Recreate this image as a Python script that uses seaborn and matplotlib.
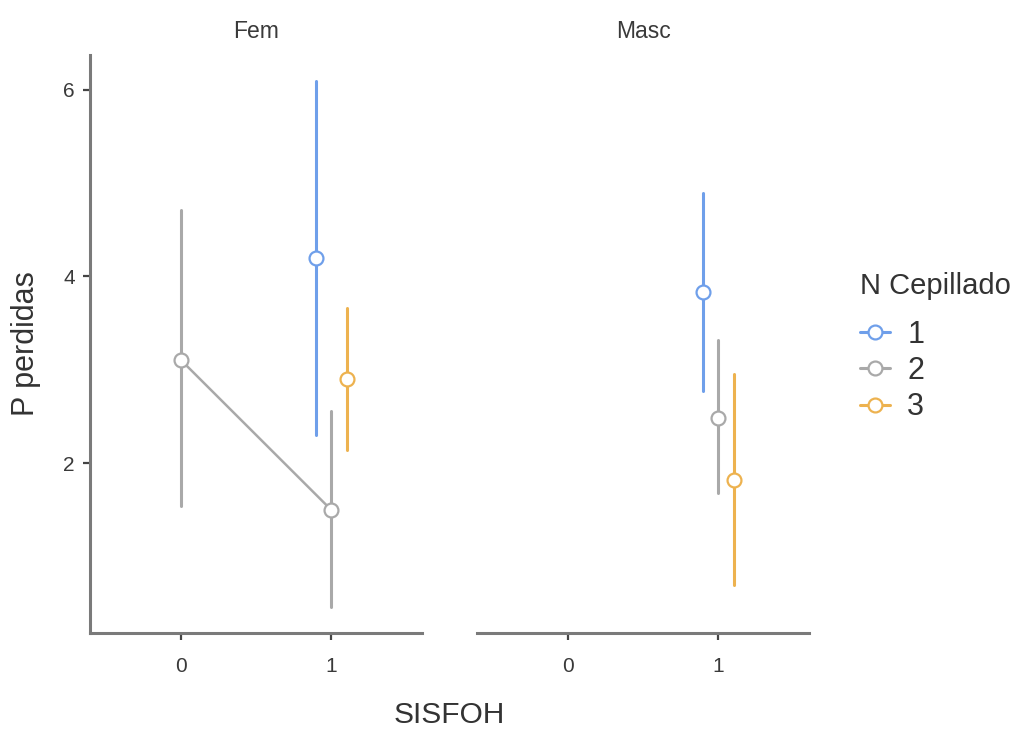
import numpy as np
import pandas as pd
import matplotlib
matplotlib.use("Agg")
import matplotlib.pyplot as plt
from matplotlib.lines import Line2D
import seaborn as sns

# ---- data ----
sexo = ["Fem", "Fem", "Fem", "Fem", "Masc", "Masc", "Masc"]
sisfoh = ["0", "1", "1", "1", "1", "1", "1"]
cepillado = ["2", "1", "2", "3", "1", "2", "3"]
media = [3.11, 4.20, 1.50, 2.90, 3.83, 2.49, 1.82]
ic_inf = [1.54, 2.30, 0.46, 2.14, 2.77, 1.68, 0.70]
ic_sup = [4.71, 6.09, 2.56, 3.66, 4.89, 3.32, 2.96]

x_order = ["0", "1"]
hue_order = ["1", "2", "3"]
col_order = ["Fem", "Masc"]
y_ticks = [2, 4, 6]
colors = ["#6F9FEA", "#A9A9A9", "#EDB24F"]
palette = dict(zip(hue_order, colors))

rows = []
for s, x, c, m, lo, hi in zip(sexo, sisfoh, cepillado, media, ic_inf, ic_sup):
    for v in (lo, m, hi):
        rows.append({"Sexo": s, "SISFOH": x, "N Cepillado": c, "P perdidas": v})
df = pd.DataFrame(rows)

sns.set_theme(style="white")
plt.rcParams["font.family"] = ["Liberation Sans", "DejaVu Sans"]
plt.rcParams["text.color"] = "#333333"

g = sns.catplot(
    data=df, x="SISFOH", y="P perdidas", hue="N Cepillado", col="Sexo",
    kind="point", order=x_order, hue_order=hue_order, col_order=col_order,
    estimator="median", errorbar=("pi", 100), dodge=0.2, palette=palette,
    markers="o", linestyles="-", markersize=10, markeredgewidth=1.6,
    linewidth=1.8, err_kws={"linewidth": 2.2}, capsize=0,
    legend=False, height=5, aspect=1, sharey=True,
)

fig = g.figure
fig.set_size_inches(10.17, 7.29)
fig.subplots_adjust(left=90 / 1017, right=809 / 1017,
                    top=1 - 55 / 729, bottom=1 - 633 / 729,
                    wspace=55 / 332)

spine_col = "#7a7a7a"
for i, ax in enumerate(g.axes.flat):
    for ln in ax.lines:
        if ln.get_marker() not in (None, "None", "", " "):
            ln.set_markerfacecolor("white")
            ln.set_zorder(4)
        else:
            ln.set_zorder(3)
    ax.set_xlim(-0.6, 1.6)
    ax.set_ylim(0.185, 6.37)
    ax.set_yticks(y_ticks)
    ax.set_xlabel("")
    ax.set_ylabel("")
    ax.set_title(col_order[i], fontsize=16.5, color="#3a3a3a", pad=12)
    for sp in ("bottom", "left"):
        ax.spines[sp].set_color(spine_col)
        ax.spines[sp].set_linewidth(2.2)
    ax.tick_params(axis="x", length=5, width=1.6, color="#444444",
                   labelsize=15, labelcolor="#3a3a3a", pad=12, bottom=True)
    ax.tick_params(axis="y", length=5, width=1.6, color="#444444",
                   labelsize=15, labelcolor="#3a3a3a", pad=6, left=True)
    if i == 1:
        ax.spines["left"].set_visible(False)
        ax.tick_params(axis="y", left=False, labelleft=False)

fig.text(26 / 1017, 1 - 344 / 729, "P perdidas", rotation=90,
         ha="center", va="center", fontsize=22, color="#333333")
fig.text(449.5 / 1017, 1 - 715 / 729, "SISFOH",
         ha="center", va="center", fontsize=21.5, color="#333333")

handles = [Line2D([], [], color=c, marker="o", markersize=10,
                  markerfacecolor="white", markeredgewidth=1.6,
                  linewidth=2.2) for c in colors]
leg = fig.legend(handles, hue_order, title="N Cepillado",
                 loc="upper left", bbox_to_anchor=(840 / 1017, 1 - 252 / 729),
                 frameon=False, fontsize=22, title_fontsize=21,
                 handlelength=1.0, handletextpad=0.55, labelspacing=0.2,
                 alignment="left", borderaxespad=0, borderpad=0.65)
leg._legend_box.sep = 14.5
for t in leg.get_texts():
    t.set_color("#333333")
leg.get_title().set_color("#333333")

fig.savefig("out.png", dpi=100)
